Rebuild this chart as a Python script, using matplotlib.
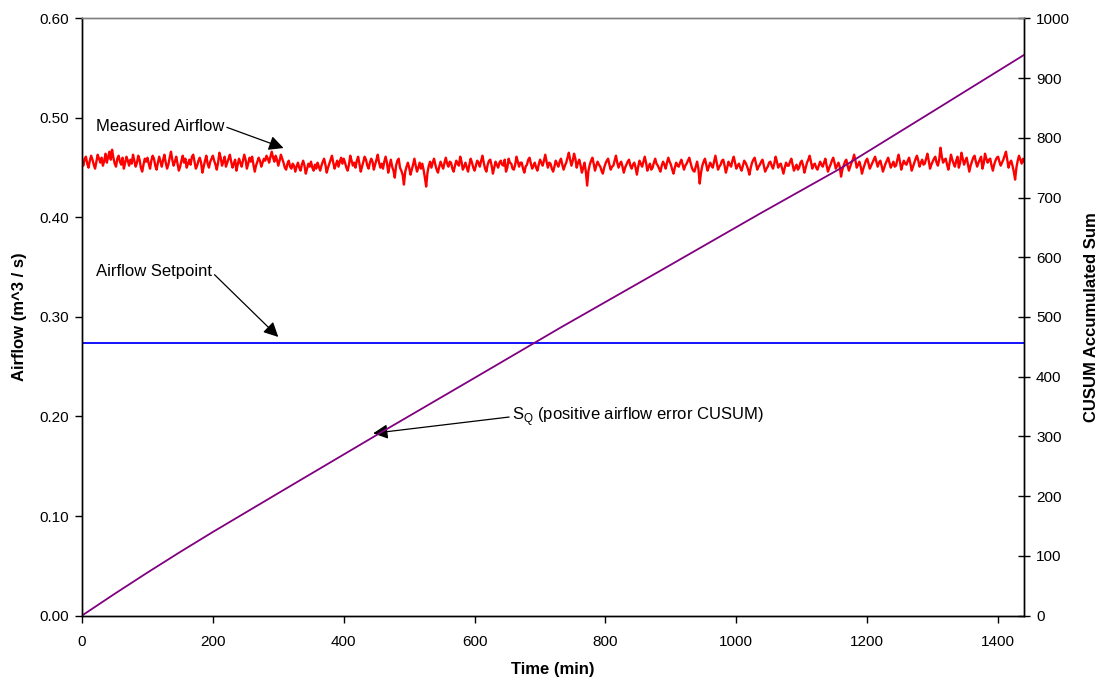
import numpy as np
import matplotlib
matplotlib.use("Agg")
import matplotlib.pyplot as plt
from matplotlib.ticker import FormatStrFormatter

plt.rcParams['font.family'] = ['Liberation Sans', 'DejaVu Sans']
plt.rcParams['path.simplify'] = False

# Measured airflow, sampled every 2 minutes (m^3/s)
measured_airflow = [
    0.456, 0.452, 0.459, 0.461, 0.454, 0.450, 0.457, 0.462, 0.458, 0.453,
    0.449, 0.456, 0.463, 0.459, 0.455, 0.460, 0.452, 0.457, 0.464, 0.455,
    0.461, 0.466, 0.458, 0.468, 0.460, 0.454, 0.451, 0.459, 0.462, 0.456,
    0.453, 0.460, 0.449, 0.455, 0.461, 0.457, 0.452, 0.458, 0.454, 0.463,
    0.457, 0.451, 0.455, 0.462, 0.458, 0.450, 0.446, 0.453, 0.459, 0.456,
    0.460, 0.454, 0.449, 0.457, 0.462, 0.459, 0.452, 0.448, 0.455, 0.461,
    0.456, 0.451, 0.458, 0.463, 0.455, 0.449, 0.453, 0.460, 0.466, 0.458,
    0.452, 0.456, 0.461, 0.454, 0.447, 0.451, 0.457, 0.462, 0.455, 0.459,
    0.450, 0.454, 0.458, 0.453, 0.461, 0.463, 0.456, 0.449, 0.452, 0.457,
    0.460, 0.455, 0.445, 0.451, 0.457, 0.462, 0.454, 0.450, 0.456, 0.459,
    0.462, 0.457, 0.453, 0.448, 0.455, 0.465, 0.460, 0.452, 0.456, 0.461,
    0.451, 0.455, 0.459, 0.463, 0.456, 0.450, 0.454, 0.458, 0.447, 0.453,
    0.459, 0.455, 0.451, 0.457, 0.463, 0.458, 0.449, 0.454, 0.460, 0.456,
    0.461, 0.453, 0.446, 0.452, 0.456, 0.460, 0.457, 0.451, 0.455, 0.459,
    0.457, 0.462, 0.459, 0.455, 0.461, 0.466, 0.460, 0.456, 0.462, 0.458,
    0.452, 0.457, 0.463, 0.459, 0.455, 0.450, 0.448, 0.454, 0.457, 0.451,
    0.449, 0.454, 0.452, 0.446, 0.451, 0.455, 0.450, 0.447, 0.453, 0.457,
    0.452, 0.444, 0.449, 0.454, 0.451, 0.456, 0.450, 0.447, 0.453, 0.449,
    0.455, 0.451, 0.447, 0.452, 0.456, 0.459, 0.453, 0.445, 0.450, 0.454,
    0.458, 0.462, 0.455, 0.449, 0.453, 0.457, 0.451, 0.456, 0.460, 0.454,
    0.459, 0.455, 0.450, 0.447, 0.453, 0.462, 0.457, 0.452, 0.455, 0.450,
    0.457, 0.461, 0.454, 0.446, 0.451, 0.456, 0.461, 0.458, 0.452, 0.449,
    0.455, 0.459, 0.456, 0.448, 0.453, 0.458, 0.463, 0.455, 0.450, 0.454,
    0.449, 0.456, 0.461, 0.455, 0.445, 0.452, 0.458, 0.451, 0.447, 0.440,
    0.452, 0.457, 0.459, 0.450, 0.447, 0.443, 0.433, 0.446, 0.451, 0.455,
    0.450, 0.443, 0.448, 0.453, 0.459, 0.452, 0.446, 0.450, 0.455, 0.449,
    0.454, 0.448, 0.440, 0.431, 0.445, 0.452, 0.456, 0.450, 0.455, 0.459,
    0.453, 0.448, 0.445, 0.451, 0.456, 0.452, 0.449, 0.455, 0.460, 0.454,
    0.451, 0.456, 0.455, 0.449, 0.446, 0.452, 0.457, 0.454, 0.452, 0.461,
    0.456, 0.448, 0.451, 0.455, 0.450, 0.446, 0.453, 0.459, 0.455, 0.450,
    0.447, 0.452, 0.457, 0.455, 0.451, 0.457, 0.462, 0.455, 0.449, 0.446,
    0.453, 0.457, 0.458, 0.452, 0.444, 0.450, 0.456, 0.453, 0.450, 0.455,
    0.457, 0.453, 0.452, 0.458, 0.446, 0.450, 0.459, 0.455, 0.454, 0.449,
    0.448, 0.453, 0.461, 0.456, 0.451, 0.455, 0.455, 0.449, 0.445, 0.451,
    0.453, 0.458, 0.460, 0.454, 0.449, 0.452, 0.455, 0.450, 0.447, 0.453,
    0.458, 0.455, 0.452, 0.457, 0.463, 0.456, 0.450, 0.455, 0.454, 0.449,
    0.446, 0.451, 0.457, 0.454, 0.451, 0.456, 0.459, 0.453, 0.448, 0.452,
    0.455, 0.460, 0.465, 0.458, 0.452, 0.457, 0.464, 0.459, 0.450, 0.455,
    0.458, 0.452, 0.445, 0.450, 0.455, 0.446, 0.432, 0.447, 0.453, 0.457,
    0.460, 0.454, 0.447, 0.452, 0.456, 0.453, 0.451, 0.447, 0.444, 0.450,
    0.454, 0.457, 0.459, 0.453, 0.448, 0.451, 0.452, 0.457, 0.462, 0.455,
    0.450, 0.454, 0.456, 0.451, 0.445, 0.450, 0.453, 0.456, 0.458, 0.452,
    0.449, 0.453, 0.455, 0.450, 0.443, 0.451, 0.457, 0.454, 0.451, 0.456,
    0.461, 0.455, 0.447, 0.451, 0.454, 0.448, 0.450, 0.455, 0.459, 0.454,
    0.452, 0.449, 0.446, 0.452, 0.456, 0.453, 0.449, 0.455, 0.460, 0.456,
    0.453, 0.448, 0.444, 0.450, 0.455, 0.452, 0.451, 0.455, 0.458, 0.453,
    0.448, 0.452, 0.454, 0.457, 0.460, 0.455, 0.450, 0.447, 0.446, 0.451,
    0.456, 0.449, 0.434, 0.445, 0.452, 0.456, 0.459, 0.453, 0.447, 0.451,
    0.455, 0.452, 0.450, 0.456, 0.462, 0.455, 0.448, 0.451, 0.453, 0.457,
    0.458, 0.452, 0.445, 0.450, 0.456, 0.453, 0.451, 0.457, 0.461, 0.455,
    0.449, 0.452, 0.454, 0.450, 0.447, 0.452, 0.457, 0.455, 0.452, 0.448,
    0.443, 0.450, 0.455, 0.458, 0.460, 0.454, 0.448, 0.451, 0.453, 0.456,
    0.458, 0.452, 0.446, 0.449, 0.451, 0.455, 0.456, 0.452, 0.449, 0.454,
    0.461, 0.456, 0.450, 0.453, 0.454, 0.449, 0.444, 0.450, 0.455, 0.452,
    0.452, 0.456, 0.459, 0.453, 0.447, 0.450, 0.453, 0.448, 0.450, 0.455,
    0.457, 0.452, 0.445, 0.450, 0.455, 0.458, 0.462, 0.456, 0.449, 0.453,
    0.454, 0.450, 0.448, 0.452, 0.456, 0.453, 0.451, 0.455, 0.459, 0.452,
    0.446, 0.450, 0.453, 0.457, 0.460, 0.455, 0.449, 0.452, 0.455, 0.451,
    0.441, 0.448, 0.452, 0.456, 0.458, 0.452, 0.447, 0.451, 0.455, 0.458,
    0.463, 0.457, 0.450, 0.453, 0.456, 0.451, 0.444, 0.449, 0.453, 0.457,
    0.459, 0.454, 0.449, 0.452, 0.455, 0.458, 0.461, 0.456, 0.451, 0.455,
    0.457, 0.452, 0.446, 0.450, 0.454, 0.457, 0.460, 0.455, 0.450, 0.453,
    0.456, 0.451, 0.452, 0.458, 0.463, 0.456, 0.448, 0.453, 0.457, 0.454,
    0.453, 0.457, 0.460, 0.454, 0.447, 0.451, 0.455, 0.459, 0.462, 0.457,
    0.451, 0.455, 0.458, 0.453, 0.454, 0.459, 0.464, 0.457, 0.449, 0.453,
    0.456, 0.459, 0.461, 0.455, 0.452, 0.458, 0.470, 0.461, 0.455, 0.458,
    0.459, 0.453, 0.448, 0.455, 0.463, 0.458, 0.454, 0.451, 0.457, 0.461,
    0.450, 0.455, 0.465, 0.459, 0.453, 0.457, 0.460, 0.453, 0.446, 0.452,
    0.456, 0.460, 0.462, 0.456, 0.451, 0.455, 0.458, 0.461, 0.449, 0.454,
    0.464, 0.459, 0.455, 0.458, 0.459, 0.452, 0.447, 0.453, 0.457, 0.460,
    0.461, 0.456, 0.452, 0.455, 0.458, 0.462, 0.466, 0.458, 0.450, 0.455,
    0.457, 0.452, 0.446, 0.438, 0.450, 0.457, 0.462, 0.458, 0.454, 0.459,
    0.456,
]
sample_step_min = 2
time_min = np.arange(len(measured_airflow)) * sample_step_min

# Airflow setpoint (m^3/s)
setpoint_time = [0, 1440]
setpoint_airflow = [0.2735, 0.2735]

# Positive airflow error CUSUM
cusum_time = [0, 50, 100, 150, 200, 250, 300, 456, 600, 731, 880, 1036, 1158,
              1300, 1440]
cusum_value = [0, 36.5, 72, 106.5, 140, 172.5, 205, 306, 398, 482, 575, 673,
               748, 844, 939]

x_ticks = [0, 200, 400, 600, 800, 1000, 1200, 1400]
left_ticks = [0.0, 0.1, 0.2, 0.3, 0.4, 0.5, 0.6]
right_ticks = [0, 100, 200, 300, 400, 500, 600, 700, 800, 900, 1000]

fig = plt.figure(figsize=(10.99, 6.79), dpi=100)
ax = fig.add_axes([0.0746, 0.0934, 0.8574, 0.8796])
ax2 = ax.twinx()

ax.plot(time_min, measured_airflow, color='#FF0000', lw=1.7)
ax.plot(setpoint_time, setpoint_airflow, color='#0000FF', lw=1.3)
ax2.plot(cusum_time, cusum_value, color='#800080', lw=1.3)

ax.set_xlim(0, 1440)
ax.set_ylim(0, 0.6)
ax2.set_ylim(0, 1000)
ax.set_xticks(x_ticks)
ax.set_yticks(left_ticks)
ax2.set_yticks(right_ticks)
ax.yaxis.set_major_formatter(FormatStrFormatter('%.2f'))

for a in (ax, ax2):
    for s in a.spines.values():
        s.set_linewidth(1.0)
        s.set_color('black')
    a.spines['top'].set_color('#808080')

ax.tick_params(axis='y', labelsize=11, direction='out', length=5, width=1.0, pad=4)
ax.tick_params(axis='x', labelsize=11, direction='out', length=5, width=1.0, pad=9)
ax2.tick_params(axis='y', labelsize=11, direction='inout', length=9, width=1.0, pad=4)

ax.set_xlabel('Time (min)', fontsize=12, fontweight='bold', labelpad=9)
ax.set_ylabel('Airflow (m^3 / s)', fontsize=12, fontweight='bold', labelpad=9)
ax2.set_ylabel('CUSUM Accumulated Sum', fontsize=12, fontweight='bold', labelpad=10)


def arrow_props(rel):
    return dict(arrowstyle='-|>', color='black', lw=0.9, mutation_scale=22,
                shrinkA=0, shrinkB=0, relpos=rel)


ax.annotate('Measured Airflow', xy=(308, 0.4697), xytext=(21, 0.4915),
            fontsize=12, va='center', ha='left', arrowprops=arrow_props((1, 0.5)))
ax.annotate('Airflow Setpoint', xy=(300, 0.2799), xytext=(21, 0.3452),
            fontsize=12, va='center', ha='left', arrowprops=arrow_props((1, 0.5)))
ax.annotate('S$_\\mathregular{Q}$ (positive airflow error CUSUM)',
            xy=(445, 0.1831), xytext=(657, 0.1998),
            fontsize=12, va='center', ha='left', arrowprops=arrow_props((0, 0.5)))

fig.savefig('out.png', dpi=100)
